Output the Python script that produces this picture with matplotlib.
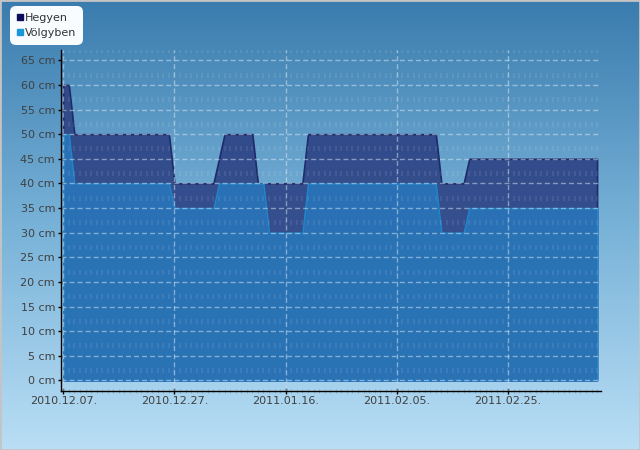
import numpy as np
import matplotlib
matplotlib.use('Agg')
import matplotlib.pyplot as plt
from matplotlib.lines import Line2D
from matplotlib.patches import Rectangle
from matplotlib.colors import LinearSegmentedColormap, to_rgba

plt.rcParams['lines.scale_dashes'] = False

# snow depth (cm), break points as day offsets from 2010.12.07.
days_h = [0, 1, 2, 19, 20, 27, 28, 29, 34, 35, 43, 44, 67, 68, 72, 73, 96]
hegyen = [60, 60, 50, 50, 40, 40, 45, 50, 50, 40, 40, 50, 50, 40, 40, 45, 45]
days_v = [0, 1, 2, 19, 20, 27, 28, 36, 37, 43, 44, 67, 68, 72, 73, 96]
volgyben = [50, 50, 40, 40, 35, 35, 40, 40, 30, 30, 40, 40, 30, 30, 35, 35]

tick_days = [0, 20, 40, 60, 80]
tick_labels = ['2010.12.07.', '2010.12.27.', '2011.01.16.', '2011.02.05.', '2011.02.25.']
y_ticks = list(range(0, 70, 5))

fig = plt.figure(figsize=(6.4, 4.5), dpi=100)

# gradient background
bg = fig.add_axes([0, 0, 1, 1], zorder=-10)
bg.axis('off')
cmap = LinearSegmentedColormap.from_list('bg', ['#3a7cae', '#78b2d8', '#b9def5'])
bg.imshow(np.linspace(0, 1, 256).reshape(-1, 1), aspect='auto', cmap=cmap,
          extent=[0, 1, 0, 1], origin='upper')
fig.add_artist(Rectangle((0, 0), 1, 1, transform=fig.transFigure, fill=False,
                         edgecolor='#c4c4c4', lw=2))

ax = fig.add_axes([61/640, 1-390.7/450, (600.7-61)/640, (390.7-50)/450])
ax.set_facecolor('none')

ax.fill_between(days_h, hegyen, 0, facecolor=to_rgba('#2a3d80', 0.85),
                edgecolor='#1f2b6b', lw=1.2, zorder=2)
ax.fill_between(days_v, volgyben, 0, facecolor=to_rgba('#2876b9', 0.9),
                edgecolor='#1f86cc', lw=1, zorder=4)

# grid
for y in y_ticks:
    ax.axhline(y, color='#dcebf6', alpha=0.5, lw=1, dashes=(3.6, 2.2), zorder=6)
for d in tick_days:
    ax.axvline(d, color='#dcebf6', alpha=0.5, lw=1, dashes=(3.6, 2.2), zorder=6)
mx = np.repeat(np.arange(0, 97), 14)
my = np.tile(np.arange(14) * 5 + 2.0, 97)
ax.vlines(mx, my - 0.5, my + 0.5, color='white', alpha=0.09, lw=1.3, zorder=6)

ax.set_xlim(-0.41, 96.65)
ax.set_ylim(-2.1, 67.1)
ax.set_xticks(tick_days, tick_labels)
ax.set_xticks(range(0, 97), minor=True)
ax.set_yticks(y_ticks, [f'{v} cm' for v in y_ticks])

for s in ['top', 'right']:
    ax.spines[s].set_visible(False)
for s in ['left', 'bottom']:
    ax.spines[s].set_color('black')
    ax.spines[s].set_linewidth(1)
    ax.spines[s].set_zorder(7)

ax.tick_params(which='major', direction='inout', length=4.5, width=1, color='black',
               labelsize=8, labelcolor='#404040')
ax.tick_params(axis='x', which='major', pad=1.5)
ax.tick_params(axis='y', which='major', pad=2)
ax.tick_params(axis='x', which='minor', direction='inout', length=3, width=0.8, color='#8fb0c8')

handles = [Line2D([], [], marker='s', linestyle='', color='#0d0d5c', markersize=4.5),
           Line2D([], [], marker='s', linestyle='', color='#1a96dc', markersize=4.5)]
leg = fig.legend(handles, ['Hegyen', 'Völgyben'], loc='upper left',
                 bbox_to_anchor=(10/640, 1-6/450), fontsize=8, frameon=True,
                 fancybox=True, framealpha=1, facecolor='#f8fcff', edgecolor='none',
                 borderpad=0.6, handlelength=0.6, handletextpad=0.15,
                 labelspacing=0.5, borderaxespad=0)
leg.get_frame().set_boxstyle('round', pad=0, rounding_size=0.5)
for t in leg.get_texts():
    t.set_color('#333333')

fig.savefig('out.png', dpi=100)
